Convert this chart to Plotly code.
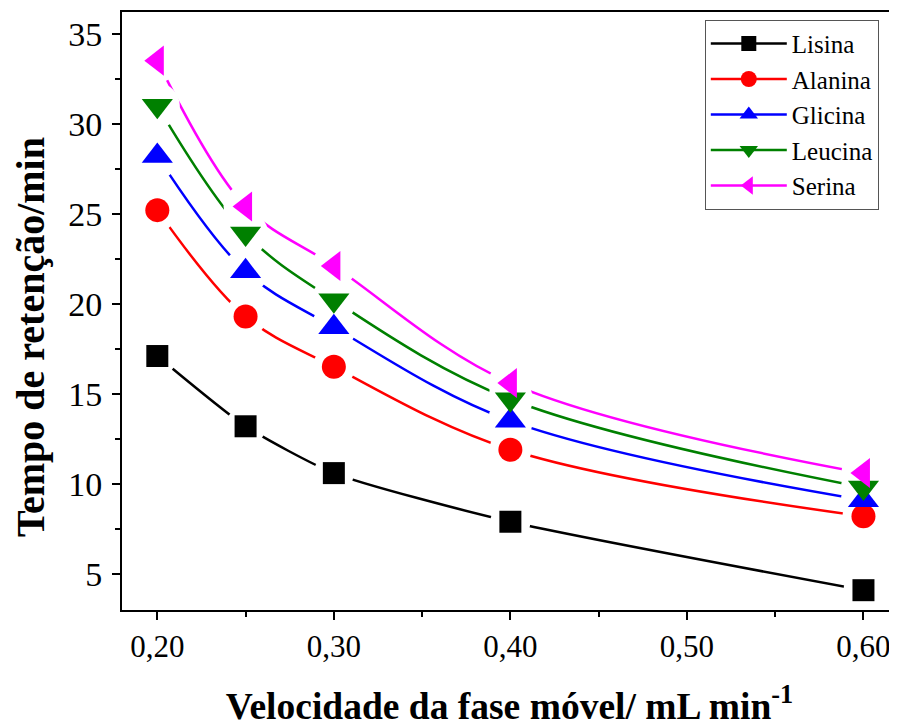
import plotly.graph_objects as go

velocidade = [0.20, 0.25, 0.30, 0.40, 0.60]
lisina = [17.1, 13.2, 10.6, 7.9, 4.1]
alanina = [25.2, 19.3, 16.5, 11.9, 8.2]
glicina = [28.2, 21.8, 18.7, 13.5, 9.1]
leucina = [31.0, 23.9, 20.2, 14.7, 9.8]
serina = [33.5, 25.4, 22.1, 15.6, 10.6]

series = [
    ("Lisina", lisina, "black", "square", 22, 15),
    ("Alanina", alanina, "red", "circle", 24, 17),
    ("Glicina", glicina, "blue", "triangle-up", 27, 19),
    ("Leucina", leucina, "green", "triangle-down", 27, 19),
    ("Serina", serina, "magenta", "triangle-left", 26, 19),
]

fig = go.Figure()
FONT = "Liberation Serif, Times New Roman, serif"

for name, vals, color, sym, sz, lsz in series:
    smooth = 0.6 if name == "Lisina" else 1.0
    fig.add_trace(go.Scatter(
        x=velocidade, y=vals, mode="lines",
        line=dict(color=color, width=2.5, shape="spline", smoothing=smooth),
        showlegend=False, hoverinfo="skip"))

# white underlay to create the gap between line and marker
for name, vals, color, sym, sz, lsz in series:
    fig.add_trace(go.Scatter(
        x=velocidade, y=vals, mode="markers",
        marker=dict(symbol="circle", color="white", size=sz + 18),
        showlegend=False, hoverinfo="skip"))

for name, vals, color, sym, sz, lsz in series:
    fig.add_trace(go.Scatter(
        x=velocidade, y=vals, mode="markers",
        marker=dict(symbol=sym, color=color, size=sz, line=dict(width=0)),
        showlegend=False))

for name, vals, color, sym, sz, lsz in series:
    fig.add_trace(go.Scatter(
        x=[None], y=[None], mode="lines+markers", name=name,
        line=dict(color=color, width=2.5),
        marker=dict(symbol=sym, color=color, size=lsz, line=dict(width=0))))

axis_common = dict(
    showline=True, linecolor="black", linewidth=2,
    ticks="outside", tickcolor="black", tickwidth=2, ticklen=8,
    showgrid=False, zeroline=False, automargin=False,
)

fig.update_xaxes(
    range=[0.18, 0.619], tickvals=[0.2, 0.3, 0.4, 0.5, 0.6],
    ticktext=["0,20", "0,30", "0,40", "0,50", "0,60"],
    tickfont=dict(family=FONT, size=31, color="black"),
    minor=dict(tickvals=[0.25, 0.35, 0.45, 0.55], ticks="outside",
               ticklen=5, tickwidth=2, tickcolor="black"),
    mirror=True,
    title=dict(text="<b>Velocidade da fase móvel/ mL min<sup>-1</sup></b>",
               font=dict(family=FONT, size=37.5, color="black"), standoff=31),
    **axis_common)

fig.update_yaxes(
    range=[3.0, 36.2], tickvals=[5, 10, 15, 20, 25, 30, 35],
    tickfont=dict(family=FONT, size=34, color="black"),
    ticklabelstandoff=3,
    minor=dict(tickvals=[7.5, 12.5, 17.5, 22.5, 27.5, 32.5], ticks="outside",
               ticklen=5, tickwidth=2, tickcolor="black"),
    mirror=False,
    **axis_common)

fig.add_annotation(
    text="<b>Tempo de retenção/min</b>", textangle=-90,
    xref="paper", yref="paper", x=-0.1187, y=0.4565,
    xanchor="center", yanchor="middle", showarrow=False,
    font=dict(family=FONT, size=40, color="black"))

fig.update_layout(
    width=889, height=719,
    margin=dict(l=114, r=0, t=4, b=117),
    plot_bgcolor="white", paper_bgcolor="white",
    legend=dict(x=0.752, y=0.987, xanchor="left", yanchor="top",
                bordercolor="#555", borderwidth=1, bgcolor="white",
                font=dict(family=FONT, size=25, color="black"),
                itemwidth=76, tracegroupgap=0),
)

fig.write_html("out.html")
